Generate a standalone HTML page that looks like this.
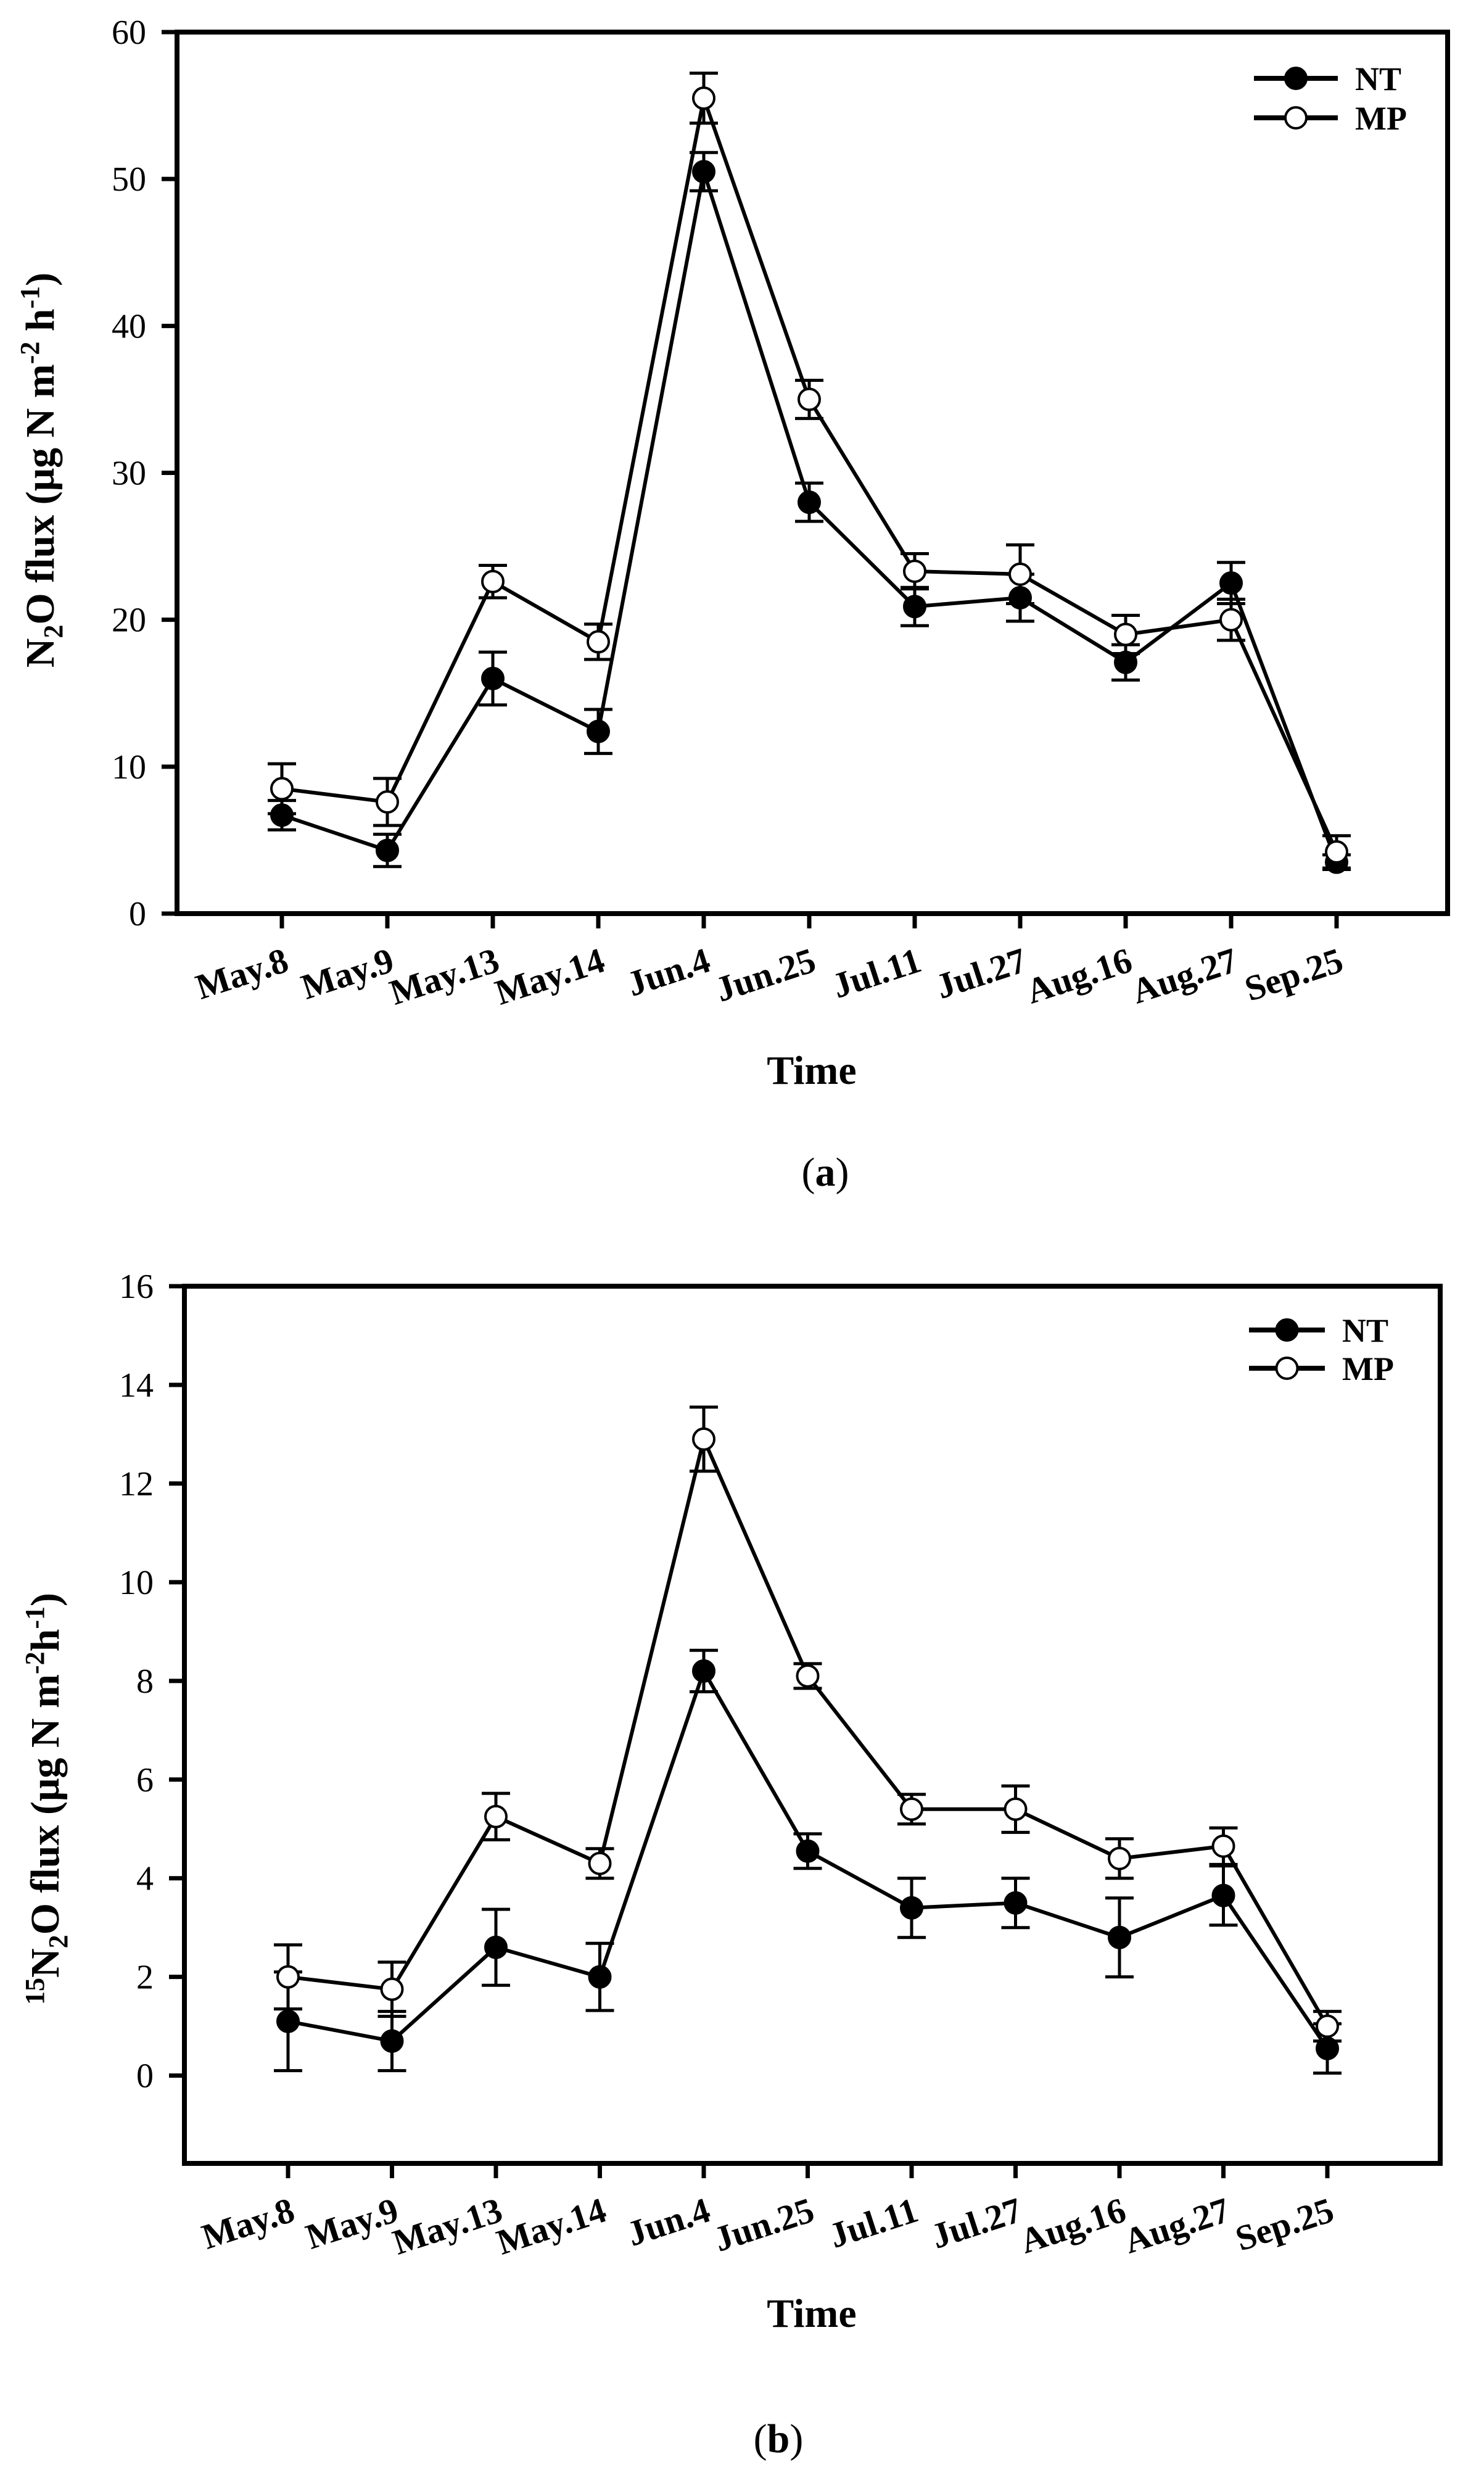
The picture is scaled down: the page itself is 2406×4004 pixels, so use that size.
<!DOCTYPE html>
<html><head><meta charset="utf-8"><style>
html,body{margin:0;padding:0;background:#fff;}
svg{display:block;font-family:"Liberation Serif",serif;}
</style></head><body>
<svg id="fig" width="2406" height="4004" viewBox="0 0 2406 4004" xmlns="http://www.w3.org/2000/svg"></svg>
<script>
const categories = ["May.8","May.9","May.13","May.14","Jun.4","Jun.25","Jul.11","Jul.27","Aug.16","Aug.27","Sep.25"];
const aNT = [6.7,4.3,16.0,12.4,50.5,28.0,20.9,21.5,17.1,22.5,3.5];
const aNTerr = [1.0,1.1,1.8,1.5,1.3,1.3,1.3,1.6,1.2,1.4,0.5];
const aMP = [8.5,7.6,22.6,18.5,55.5,35.0,23.3,23.1,19.0,20.0,4.2];
const aMPerr = [1.7,1.6,1.1,1.2,1.7,1.3,1.2,2.0,1.3,1.4,1.1];
const aTicks = [0,10,20,30,40,50,60];
const bNT = [1.1,0.7,2.6,2.0,8.2,4.55,3.4,3.5,2.8,3.65,0.55];
const bNTerr = [1.0,0.6,0.77,0.68,0.42,0.35,0.6,0.5,0.8,0.6,0.5];
const bMP = [2.0,1.75,5.25,4.3,12.9,8.1,5.4,5.4,4.4,4.65,1.0];
const bMPerr = [0.65,0.55,0.47,0.3,0.65,0.25,0.3,0.47,0.4,0.37,0.3];
const bTicks = [0,2,4,6,8,10,12,14,16];

const NS="http://www.w3.org/2000/svg";
const svg=document.getElementById('fig');
function mk(tag,attrs,parent){const e=document.createElementNS(NS,tag);for(const k in attrs)e.setAttribute(k,attrs[k]);(parent||svg).appendChild(e);return e;}

function chart(cfg){
  const g=mk('g',{});
  
  
  const y=v=>cfg.bottom-(v-cfg.ymin)/(cfg.ymax-cfg.ymin)*(cfg.bottom-cfg.top);
  const x=i=>cfg.x0+i*cfg.step;
  const fr=mk('rect',{x:cfg.left,y:cfg.top,width:cfg.right-cfg.left,height:cfg.bottom-cfg.top,fill:'none',stroke:'#000','stroke-width':8},g);
  
  
  cfg.ticks.forEach(t=>{
    const ln=mk('line',{x1:cfg.left-25,x2:cfg.left,y1:y(t),y2:y(t),stroke:'#000','stroke-width':7},g);
    
    
    const tx=mk('text',{x:cfg.left-50,y:y(t)+19,'text-anchor':'end','font-size':56},g);
    tx.textContent=t;
    
    
  });
  categories.forEach((c,i)=>{
    const ln=mk('line',{x1:x(i),x2:x(i),y1:cfg.bottom,y2:cfg.bottom+24,stroke:'#000','stroke-width':7},g);
    
    
    const tx=mk('text',{x:x(i)+14,y:cfg.bottom+92,'text-anchor':'end','font-size':58,'font-weight':'bold',transform:`rotate(-18 ${x(i)+14} ${cfg.bottom+92})`},g);
    tx.textContent=c;
    
    
  });
  const series=[{v:cfg.nt,e:cfg.nterr,fill:'#000',n:'nt'},{v:cfg.mp,e:cfg.mperr,fill:'#fff',n:'mp'}];
  series.forEach(s=>{
    const pts=s.v.map((v,i)=>x(i)+','+y(v)).join(' ');
    const pl=mk('polyline',{points:pts,fill:'none',stroke:'#000','stroke-width':6},g);
    
    
  });
  series.forEach(s=>{
    s.v.forEach((v,i)=>{
      const eb=mk('path',{d:`M${x(i)},${y(v-s.e[i])}V${y(v+s.e[i])}M${x(i)-23},${y(v-s.e[i])}h46M${x(i)-23},${y(v+s.e[i])}h46`,stroke:'#000','stroke-width':5,fill:'none'},g);
      
      
    });
  });
  series.forEach(s=>{
    s.v.forEach((v,i)=>{
      const c=mk('circle',{cx:x(i),cy:y(v),r:17,fill:s.fill,stroke:'#000','stroke-width':4},g);
      
      
    });
  });
  [['NT','#000',cfg.legY1],['MP','#fff',cfg.legY2]].forEach(([lab,f,ly])=>{
    const ln=mk('line',{x1:cfg.legX1,x2:cfg.legX2,y1:ly,y2:ly,stroke:'#000','stroke-width':8},g);
    
    
    const c=mk('circle',{cx:(cfg.legX1+cfg.legX2)/2,cy:ly,r:17,fill:f,stroke:'#000','stroke-width':4},g);
    
    
    const t=mk('text',{x:cfg.legX2+28,y:ly+19,'font-size':54,'font-weight':'bold'},g);
    t.textContent=lab;
    
    
  });
  const xt=mk('text',{x:1316,y:cfg.timeY,'text-anchor':'middle','font-size':66,'font-weight':'bold'},g);
  xt.textContent='Time';
  
  
  const yt=mk('text',{x:cfg.ytX,y:cfg.ytY,'text-anchor':'middle','font-size':66,'font-weight':'bold',transform:`rotate(-90 ${cfg.ytX} ${cfg.ytY})`},g);
  yt.innerHTML=cfg.ytitle;
  
  
  const cp=mk('text',{x:cfg.capX,y:cfg.capY,'text-anchor':'middle','font-size':66},g);
  cp.innerHTML='(<tspan font-weight="bold">'+cfg.cap+'</tspan>)';
  
  
}

chart({name:'chart-a-n2o-flux',left:287,right:2347,top:52,bottom:1481,ymin:0,ymax:60,x0:457,step:171,
  ticks:aTicks,nt:aNT,nterr:aNTerr,mp:aMP,mperr:aMPerr,
  legX1:2033,legX2:2169,legY1:127,legY2:191,timeY:1757,ytX:87,ytY:762,
  ytitle:'N<tspan font-size="44" dy="14">2</tspan><tspan dy="-14">O flux (μg N m</tspan><tspan font-size="44" dy="-24">-2</tspan><tspan dy="24"> h</tspan><tspan font-size="44" dy="-24">-1</tspan><tspan dy="24">)</tspan>',
  capX:1338,capY:1922,cap:'a'});

chart({name:'chart-b-15n2o-flux',left:299,right:2335,top:2085,bottom:3507,ymin:-1.78,ymax:16,x0:467,step:168.5,
  ticks:bTicks,nt:bNT,nterr:bNTerr,mp:bMP,mperr:bMPerr,
  legX1:2025,legX2:2148,legY1:2156,legY2:2218,timeY:3772,ytX:95,ytY:2916,
  ytitle:'<tspan font-size="44" dy="-24">15</tspan><tspan dy="24">N</tspan><tspan font-size="44" dy="14">2</tspan><tspan dy="-14">O flux (μg N m</tspan><tspan font-size="44" dy="-24">-2</tspan><tspan dy="24">h</tspan><tspan font-size="44" dy="-24">-1</tspan><tspan dy="24">)</tspan>',
  capX:1262,capY:3975,cap:'b'});
</script>
</body></html>
